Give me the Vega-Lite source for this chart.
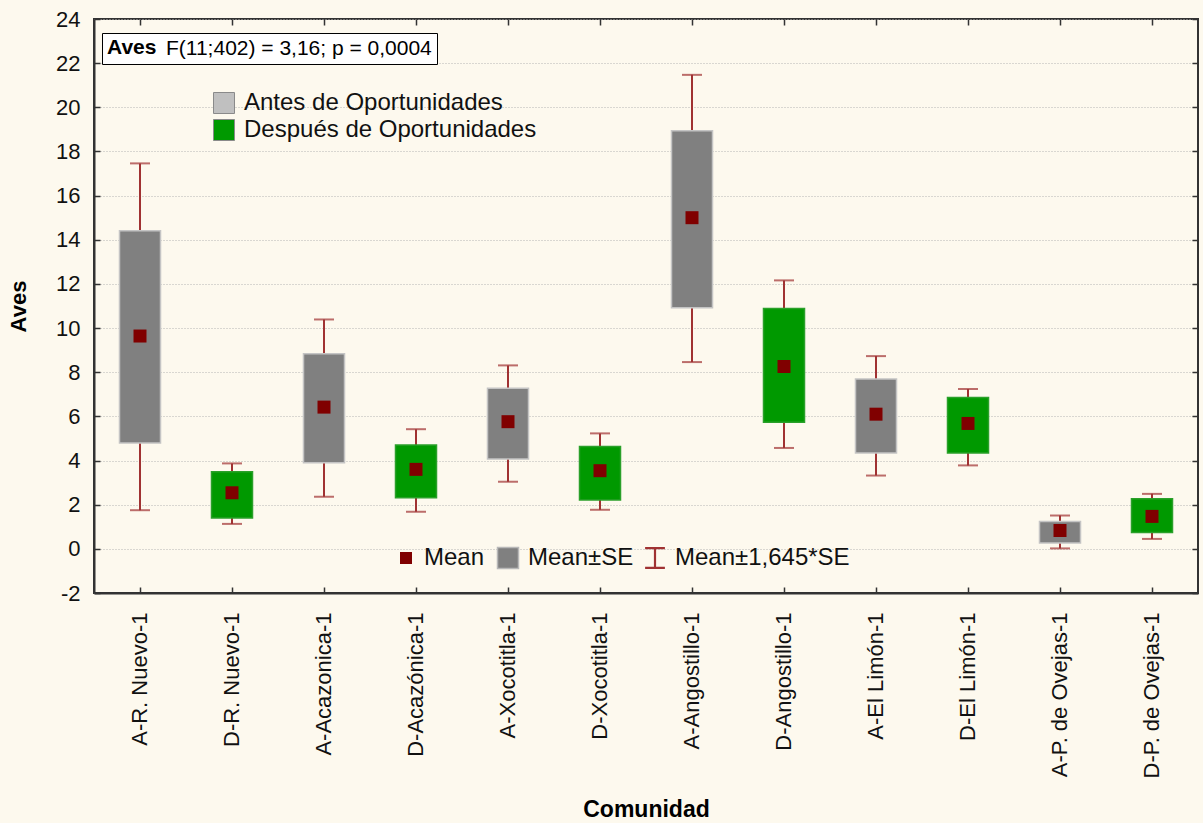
{
  "$schema": "https://vega.github.io/schema/vega-lite/v6.json",
  "width": 1104,
  "height": 574,
  "autosize": {"type": "none"},
  "padding": {"left": 94, "top": 19, "right": 5, "bottom": 230},
  "background": "#fdf9ee",
  "config": {
    "view": {"fill": "white", "stroke": "#333333", "strokeWidth": 2},
    "font": "Liberation Sans",
    "axis": {"domainColor": "#333333", "domainWidth": 2, "tickColor": "#333333", "tickWidth": 1.5},
    "legend": {"labelLimit": 600}
  },
  "data": {
    "values": [
      {"com": "A-R. Nuevo-1", "grupo": "Antes de Oportunidades", "mean": 9.64, "se_lo": 4.8, "se_hi": 14.41, "lo": 1.75, "hi": 17.46},
      {"com": "D-R. Nuevo-1", "grupo": "Después de Oportunidades", "mean": 2.54, "se_lo": 1.4, "se_hi": 3.49, "lo": 1.13, "hi": 3.87},
      {"com": "A-Acazonica-1", "grupo": "Antes de Oportunidades", "mean": 6.42, "se_lo": 3.9, "se_hi": 8.84, "lo": 2.36, "hi": 10.39},
      {"com": "D-Acazónica-1", "grupo": "Después de Oportunidades", "mean": 3.6, "se_lo": 2.31, "se_hi": 4.7, "lo": 1.68, "hi": 5.42},
      {"com": "A-Xocotitla-1", "grupo": "Antes de Oportunidades", "mean": 5.76, "se_lo": 4.07, "se_hi": 7.28, "lo": 3.04, "hi": 8.31},
      {"com": "D-Xocotitla-1", "grupo": "Después de Oportunidades", "mean": 3.54, "se_lo": 2.21, "se_hi": 4.64, "lo": 1.77, "hi": 5.23},
      {"com": "A-Angostillo-1", "grupo": "Antes de Oportunidades", "mean": 15.0, "se_lo": 10.92, "se_hi": 18.94, "lo": 8.46, "hi": 21.47},
      {"com": "D-Angostillo-1", "grupo": "Después de Oportunidades", "mean": 8.26, "se_lo": 5.73, "se_hi": 10.89, "lo": 4.57, "hi": 12.16},
      {"com": "A-El Limón-1", "grupo": "Antes de Oportunidades", "mean": 6.1, "se_lo": 4.34, "se_hi": 7.69, "lo": 3.32, "hi": 8.73},
      {"com": "D-El Limón-1", "grupo": "Después de Oportunidades", "mean": 5.68, "se_lo": 4.34, "se_hi": 6.86, "lo": 3.78, "hi": 7.24},
      {"com": "A-P. de Ovejas-1", "grupo": "Antes de Oportunidades", "mean": 0.83, "se_lo": 0.27, "se_hi": 1.24, "lo": 0.02, "hi": 1.51},
      {"com": "D-P. de Ovejas-1", "grupo": "Después de Oportunidades", "mean": 1.47, "se_lo": 0.74, "se_hi": 2.27, "lo": 0.45, "hi": 2.49}
    ]
  },
  "layer": [
    {
      "mark": {"type": "rule", "color": "#a03232", "strokeWidth": 2},
      "encoding": {
        "x": {"field": "com", "type": "nominal", "sort": null,
          "scale": {"paddingInner": 0, "paddingOuter": 0},
          "axis": {"title": "Comunidad", "titleFontSize": 23, "titleFontWeight": "bold", "titleColor": "#000000", "titlePadding": 21,
            "labelAngle": -90, "labelFontSize": 22, "labelColor": "#111111", "labelPadding": 25, "labelOverlap": false, "labelLimit": 300,
            "tickSize": -6, "grid": false}},
        "y": {"field": "lo", "type": "quantitative",
          "scale": {"domain": [-2, 24], "nice": false, "zero": false},
          "axis": {"title": "Aves", "titleFontSize": 22, "titleFontWeight": "bold", "titleColor": "#000000", "titlePadding": 25,
            "values": [-2, 0, 2, 4, 6, 8, 10, 12, 14, 16, 18, 20, 22, 24],
            "labelExpr": "'' + datum.value",
            "labelFontSize": 22, "labelColor": "#111111", "labelPadding": 20, "tickSize": -6,
            "grid": true, "gridDash": [1, 2], "gridColor": "#b5b5b5", "gridWidth": 1}},
        "y2": {"field": "hi"}
      }
    },
    {
      "mark": {"type": "bar", "size": 41, "strokeWidth": 1.5},
      "encoding": {
        "x": {"field": "com", "type": "nominal", "sort": null, "axis": null},
        "y": {"field": "se_lo", "type": "quantitative", "axis": null},
        "y2": {"field": "se_hi"},
        "fill": {"field": "grupo", "type": "nominal", "legend": null,
          "scale": {"domain": ["Antes de Oportunidades", "Después de Oportunidades"], "range": ["#808080", "#009900"]}},
        "stroke": {"field": "grupo", "type": "nominal", "legend": null,
          "scale": {"domain": ["Antes de Oportunidades", "Después de Oportunidades"], "range": ["#c4c4c4", "#2aa02a"]}}
      }
    },
    {
      "mark": {"type": "tick", "color": "#a03232", "size": 20, "thickness": 2},
      "encoding": {
        "x": {"field": "com", "type": "nominal", "sort": null, "axis": null},
        "y": {"field": "hi", "type": "quantitative", "axis": null}
      }
    },
    {
      "mark": {"type": "tick", "color": "#a03232", "size": 20, "thickness": 2},
      "encoding": {
        "x": {"field": "com", "type": "nominal", "sort": null, "axis": null},
        "y": {"field": "lo", "type": "quantitative", "axis": null}
      }
    },
    {
      "mark": {"type": "point", "shape": "square", "filled": true, "size": 169, "color": "#800000", "opacity": 1},
      "encoding": {
        "x": {"field": "com", "type": "nominal", "sort": null, "axis": null},
        "y": {"field": "mean", "type": "quantitative", "axis": null}
      }
    },
    {
      "mark": {"type": "point", "shape": "square", "filled": true, "opacity": 0},
      "encoding": {
        "x": {"field": "com", "type": "nominal", "sort": null, "axis": {"orient": "top", "labels": false, "domain": false, "tickSize": -6, "title": null, "grid": false}},
        "y": {"field": "mean", "type": "quantitative", "axis": {"orient": "right", "labels": false, "domain": false, "tickSize": -6, "title": null, "grid": false, "values": [-2, 0, 2, 4, 6, 8, 10, 12, 14, 16, 18, 20, 22, 24]}},
        "color": {"field": "grupo", "type": "nominal",
          "scale": {"domain": ["Antes de Oportunidades", "Después de Oportunidades"], "range": ["#c0c0c0", "#009900"]},
          "legend": {"title": null, "orient": "none", "legendX": 118, "legendY": 72, "direction": "vertical",
            "symbolType": "square", "symbolSize": 441, "symbolStrokeColor": "#8a8a8a", "symbolStrokeWidth": 1,
            "labelFontSize": 24, "labelColor": "#111111", "labelOffset": 8, "rowPadding": 1, "padding": 0, "labelLimit": 600}}
      }
    },
    {
      "data": {"values": [{"m": "Mean"}]},
      "mark": {"type": "point", "shape": "square", "filled": true, "opacity": 0},
      "encoding": {
        "fill": {"field": "m", "type": "nominal",
          "scale": {"domain": ["Mean"], "range": ["#800000"]},
          "legend": {"title": null, "orient": "none", "legendX": 300, "legendY": 527, "direction": "horizontal",
            "symbolType": "square", "symbolSize": 144, "symbolStrokeWidth": 0,
            "labelFontSize": 24, "labelColor": "#111111", "labelOffset": 6, "padding": 0, "labelLimit": 600}}
      }
    },
    {
      "data": {"values": [{"s": "Mean±SE"}]},
      "mark": {"type": "point", "shape": "square", "filled": true, "color": "#808080", "opacity": 0},
      "encoding": {
        "stroke": {"field": "s", "type": "nominal",
          "scale": {"domain": ["Mean±SE"], "range": ["#b8b8b8"]},
          "legend": {"title": null, "orient": "none", "legendX": 402, "legendY": 527, "direction": "horizontal",
            "symbolType": "square", "symbolSize": 441, "symbolStrokeWidth": 1.5,
            "labelFontSize": 24, "labelColor": "#111111", "labelOffset": 8, "padding": 0, "labelLimit": 600}}
      }
    },
    {
      "data": {"values": [{"w": "Mean±1,645*SE"}]},
      "mark": {"type": "point", "filled": true, "color": "#a03232", "opacity": 0},
      "encoding": {
        "shape": {"field": "w", "type": "nominal",
          "scale": {"domain": ["Mean±1,645*SE"], "range": ["M-0.9,-1H0.9V-0.8H0.1V0.8H0.9V1H-0.9V0.8H-0.1V-0.8H-0.9Z"]},
          "legend": {"title": null, "orient": "none", "legendX": 549, "legendY": 527, "direction": "horizontal",
            "symbolSize": 484, "symbolStrokeWidth": 0,
            "labelFontSize": 24, "labelColor": "#111111", "labelOffset": 8, "padding": 0, "labelLimit": 600}}
      }
    },
    {
      "data": {"values": [{"stat": "F(11;402) = 3,16; p = 0,0004"}]},
      "mark": {"type": "point", "opacity": 0},
      "encoding": {
        "strokeDash": {"field": "stat", "type": "nominal",
          "legend": {"title": "Aves", "orient": "none", "legendX": 8, "legendY": 14, "direction": "horizontal",
            "titleOrient": "left", "titleFontSize": 21, "titleFontWeight": "bold", "titleColor": "#000000", "titlePadding": 5,
            "labelFontSize": 21, "labelColor": "#000000", "labelOffset": -17, "labelLimit": 600,
            "symbolSize": 0, "symbolOpacity": 0, "symbolStrokeWidth": 0,
            "strokeColor": "#000000", "fillColor": "#ffffff", "padding": 5,
            "encode": {"legend": {"strokeWidth": {"value": 2}}}}}
      }
    }
  ],
  "resolve": {
    "scale": {"fill": "independent", "stroke": "independent", "color": "independent", "shape": "independent", "size": "independent", "strokeDash": "independent"},
    "axis": {"x": "independent", "y": "independent"}
  }
}
